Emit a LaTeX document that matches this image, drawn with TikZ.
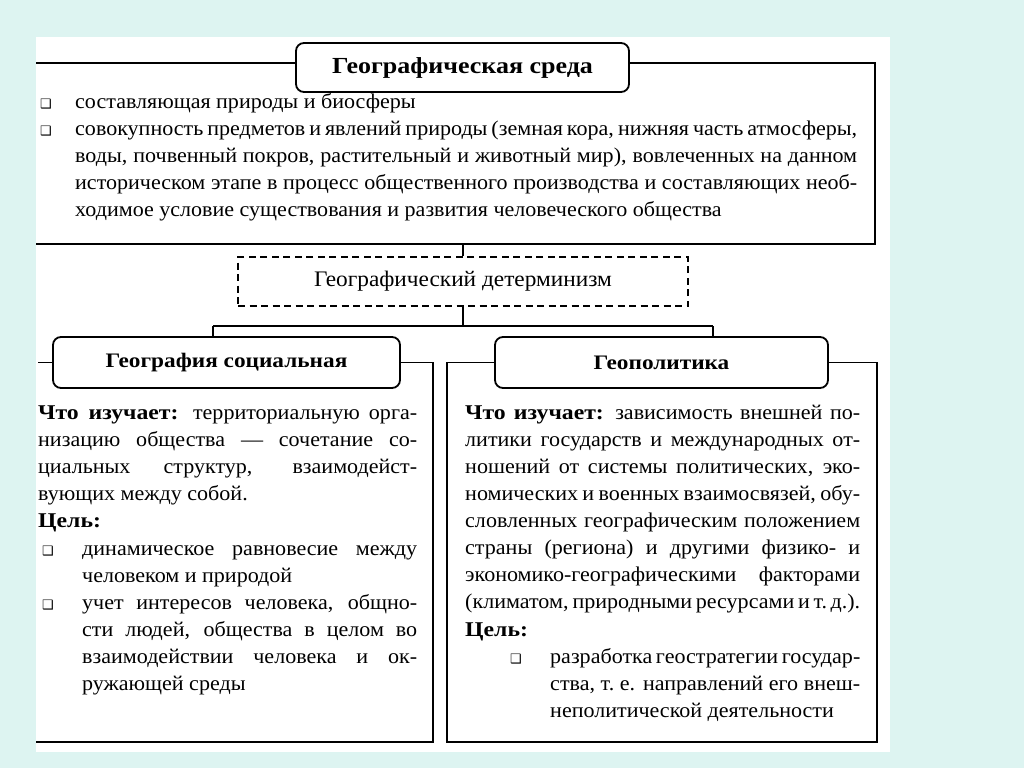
\documentclass[tikz,border=0pt]{standalone}
\usepackage{fontspec}
\setmainfont{Liberation Serif}[FakeStretch=1.05]
\newfontfamily\hb{Liberation Serif}[FakeStretch=1.13]
\newfontfamily\dejavu{DejaVu Sans}
\definecolor{bgc}{RGB}{221,244,241}
\newcommand\jl[1]{\hbox to\hsize{#1}}
\newcommand\el[1]{\hbox{#1}}
\newcommand\bb[1]{{\hb\bfseries #1}}
\begin{document}
\begin{tikzpicture}[x=1pt,y=-1pt,
  line/.style={line width=1.8pt, black},
  titlebox/.style={draw, line width=1.8pt, rounded corners=8pt, fill=white, minimum height=49pt, inner sep=0pt, font=\hb\bfseries\fontsize{23}{27}\selectfont},
  subbox/.style={draw, line width=1.8pt, rounded corners=8pt, fill=white, minimum height=51pt, inner sep=0pt, font=\hb\bfseries\fontsize{20.6}{25}\selectfont},
  detbox/.style={draw, line width=1.6pt, dash pattern=on 7pt off 4.5pt, minimum width=450pt, minimum height=49pt, inner sep=0pt, font=\fontsize{22.2}{27}\selectfont},
  txt/.style={inner sep=0pt, anchor=base west, font=\fontsize{21}{27.1}\selectfont},
  bul/.style={inner sep=0pt, anchor=base west, font=\dejavu\fontsize{13}{14}\selectfont}
]
\useasboundingbox (0,0) rectangle (1024,768);
\fill[bgc] (0,0) rectangle (1024,768);
\fill[white] (36,37) rectangle (890,752);

% top frame
\coordinate (tfl) at (36,63);
\coordinate (tfr) at (875,63);
\coordinate (tbr) at (875,244);
\coordinate (tbl) at (36,244);
\node[titlebox, minimum width=333pt] (gs0) at (462.5,67.5) {Географическая среда};
\draw[line] (tfl) -- (tfl -| gs0.west);
\draw[line] (tfr -| gs0.east) -- (tfr) -- (tbr) -- (tbl);

\node[bul] (tb1) at (40,108) {❑};
\node[txt] (tt1) at (75,108) {составляющая природы и биосферы};
\node[bul] (tb2) at (40,135) {❑};
\node[txt] (tt2) at (75,135) {\parbox[t]{782pt}{%
\jl{совокупность предметов и явлений природы (земная кора, нижняя часть атмосферы,}%
\jl{воды, почвенный покров, растительный и животный мир), вовлеченных на данном}%
\jl{историческом этапе в процесс общественного производства и составляющих необ-}%
\el{ходимое условие существования и развития человеческого общества}}};

% determinism
\node[detbox] (det) at (463,281.5) {Географический детерминизм};
\draw[line] (det.north |- tbl) -- (det.north);

\node[subbox, minimum width=347pt] (gsoc) at (226.5,362.5) {География социальная};
\node[subbox, minimum width=333pt] (gpol) at (661.5,362.5) {Геополитика};

\coordinate (jl) at (213,326);
\coordinate (jr) at (713,326);
\draw[line] (det.south) -- (det.south |- jl);
\draw[line] (jl) -- (jr);
\draw[line] (jl) -- (jl |- gsoc.north);
\draw[line] (jr) -- (jr |- gpol.north);

% left frame
\coordinate (lfl) at (38,362.5);
\coordinate (lfr) at (433,362.5);
\coordinate (lbr) at (433,742);
\coordinate (lbl) at (36,742);
\draw[line] (lfl) -- (gsoc.west);
\draw[line] (gsoc.east) -- (lfr) -- (lbr) -- (lbl);

% right frame
\coordinate (rfl) at (447,362.5);
\coordinate (rbl) at (447,742);
\coordinate (rbr) at (877,742);
\coordinate (rfr) at (877,362.5);
\draw[line] (gpol.west) -- (rfl) -- (rbl) -- (rbr) -- (rfr) -- (gpol.east);

% left column text
\node[txt] (lw) at (38,419) {\parbox[t]{379pt}{%
\jl{\bb{Что изучает:} территориальную орга-}%
\jl{низацию общества — сочетание со-}%
\jl{циальных структур, взаимодейст-}%
\el{вующих между собой.}}};
\node[txt] (lc) at (38,527) {\bb{Цель:}};
\node[bul] (lb1) at (42,555) {❑};
\node[txt] (lt1) at (82,555) {\parbox[t]{335pt}{%
\jl{динамическое равновесие между}%
\el{человеком и природой}}};
\node[bul] (lb2) at (42,609) {❑};
\node[txt] (lt2) at (82,609) {\parbox[t]{335pt}{%
\jl{учет интересов человека, общно-}%
\jl{сти людей, общества в целом во}%
\jl{взаимодействии человека и ок-}%
\el{ружающей среды}}};

% right column text
\node[txt] (rw) at (465,419) {\parbox[t]{395pt}{%
\jl{\bb{Что изучает:} зависимость внешней по-}%
\jl{литики государств и международных от-}%
\jl{ношений от системы политических, эко-}%
\jl{номических и военных взаимосвязей, обу-}%
\jl{словленных географическим положением}%
\jl{страны (региона) и другими физико- и}%
\jl{экономико-географическими факторами}%
\jl{(климатом, природными ресурсами и т.~д.).}}};
\node[txt] (rc) at (465,636) {\bb{Цель:}};
\node[bul] (rb1) at (510,663) {❑};
\node[txt] (rt1) at (550,663) {\parbox[t]{310pt}{%
\jl{разработка геостратегии государ-}%
\jl{ства, т.~е. направлений его внеш-}%
\el{неполитической деятельности}}};
\end{tikzpicture}
\end{document}
